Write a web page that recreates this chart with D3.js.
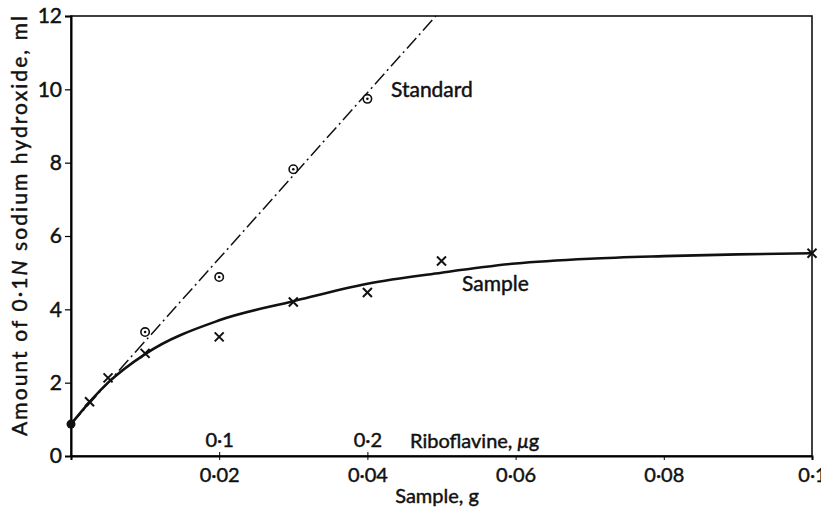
<!DOCTYPE html>
<html>
<head>
<meta charset="utf-8">
<script src="https://cdn.jsdelivr.net/npm/d3@7"></script>
<style>
  body { margin: 0; background: #fff; }
  svg { display: block; }
  text { font-family: Lato, "Open Sans", sans-serif; fill: #111; stroke: #111; stroke-width: 0.45px; }
</style>
</head>
<body>
<div class="container"></div>
<script>
// values
var standardPoints = [[0.01, 3.38], [0.02, 4.88], [0.03, 7.82], [0.04, 9.74]];
var samplePoints = [[0.0025, 1.48], [0.005, 2.13], [0.01, 2.8], [0.02, 3.25], [0.03, 4.2],
                    [0.04, 4.46], [0.05, 5.32], [0.1, 5.53]];
var startPoint = [0, 0.87];
// drawn curve through the sample crosses
var sampleCurve = [[0, 0.87], [0.0025, 1.47], [0.005, 2.0], [0.01, 2.78], [0.02, 3.7],
                   [0.03, 4.22], [0.04, 4.7], [0.05, 5.0], [0.06, 5.25], [0.07, 5.38],
                   [0.08, 5.45], [0.09, 5.5], [0.1, 5.53]];
// straight standard line, ml = intercept + slope * g
var standardIntercept = 0.87;
var standardSlope = 226;

var xTicks = [0.02, 0.04, 0.06, 0.08, 0.1];
var yTicks = [0, 2, 4, 6, 8, 10, 12];
var ribTicks = [0.1, 0.2];

var width = 821,
    height = 507;

var svg = d3.select('.container')
    .append('svg')
    .attr('width', width)
    .attr('height', height);

var mLeft = 71, mRight = 812, mTop = 16, mBottom = 456;

var x = d3.scaleLinear().domain([0, 0.1]).range([mLeft, mRight]);
var y = d3.scaleLinear().domain([0, 12]).range([mBottom, mTop]);
// 0.1 ug riboflavine sits at 0.02 g sample
var rib = d3.scaleLinear().domain([0, 0.5]).range([mLeft, mRight]);

function dotFmt(v) { return String(+v.toFixed(3)).replace('.', '\u00b7'); }

// frame
svg.append('rect')
    .attr('x', mLeft).attr('y', mTop)
    .attr('width', mRight - mLeft).attr('height', mBottom - mTop)
    .attr('fill', 'none').attr('stroke', '#111').attr('stroke-width', 1.6);

// y axis
var yAxis = svg.append('g')
    .attr('transform', 'translate(' + mLeft + ',0)')
    .call(d3.axisLeft(y).tickValues(yTicks).tickSize(6).tickPadding(3).tickFormat(d3.format('d')));
yAxis.select('.domain').attr('stroke-width', 2);
yAxis.selectAll('.tick line').attr('stroke-width', 1.2);
yAxis.selectAll('.tick text').attr('font-size', 21).attr('font-family', 'Lato').attr('fill', '#111');
yAxis.selectAll('.tick').filter(function(d) { return d === 0; }).select('line').remove();

// x axis (sample, g)
var xAxis = svg.append('g')
    .attr('transform', 'translate(0,' + mBottom + ')')
    .call(d3.axisBottom(x).tickValues(xTicks).tickSize(4).tickPadding(8).tickFormat(dotFmt));
xAxis.select('.domain').attr('stroke-width', 2);
xAxis.selectAll('.tick line').attr('stroke-width', 1);
xAxis.selectAll('.tick text').attr('font-size', 20).attr('font-family', 'Lato').attr('fill', '#111');

// riboflavine scale above the axis
var ribAxis = svg.append('g')
    .attr('transform', 'translate(0,' + mBottom + ')')
    .call(d3.axisTop(rib).tickValues(ribTicks).tickSize(4).tickPadding(5).tickFormat(dotFmt));
ribAxis.select('.domain').remove();
ribAxis.selectAll('.tick line').attr('stroke-width', 1);
ribAxis.selectAll('.tick text').attr('font-size', 20).attr('font-family', 'Lato').attr('fill', '#111');

var ribLabel = svg.append('text')
    .attr('x', 410).attr('y', 448)
    .attr('font-size', 20);
ribLabel.append('tspan').text('Riboflavine, ');
ribLabel.append('tspan').attr('font-style', 'italic').text('\u03bc');
ribLabel.append('tspan').text('g');

svg.append('text')
    .attr('x', 437).attr('y', 503)
    .attr('text-anchor', 'middle')
    .attr('font-size', 20)
    .text('Sample, g');

var yLabel = svg.append('text')
    .attr('transform', 'translate(27,226) rotate(-90)')
    .attr('text-anchor', 'middle')
    .attr('font-size', 21)
    .attr('textLength', 420)
    .attr('lengthAdjust', 'spacing');
yLabel.append('tspan').text('Amount of 0\u00b71');
yLabel.append('tspan').attr('font-style', 'italic').text('N');
yLabel.append('tspan').text(' sodium hydroxide, ml');

// standard line, clipped at the top of the frame
var xEnd = (12 - standardIntercept) / standardSlope;
svg.append('line')
    .attr('x1', x(0)).attr('y1', y(standardIntercept))
    .attr('x2', x(xEnd)).attr('y2', y(standardIntercept + standardSlope * xEnd))
    .attr('stroke', '#111').attr('stroke-width', 1.5)
    .attr('stroke-dasharray', '14,4,2,4');

// sample curve
var line = d3.line()
    .x(function(d) { return x(d[0]); })
    .y(function(d) { return y(d[1]); })
    .curve(d3.curveMonotoneX);
svg.append('path')
    .datum(sampleCurve)
    .attr('d', line)
    .attr('fill', 'none').attr('stroke', '#111').attr('stroke-width', 2.6);

// standard points: circles with a centre dot
var std = svg.selectAll('g.std')
    .data(standardPoints)
    .enter().append('g')
    .attr('class', 'std')
    .attr('transform', function(d) { return 'translate(' + x(d[0]) + ',' + y(d[1]) + ')'; });
std.append('circle').attr('r', 4.2).attr('fill', '#fff').attr('stroke', '#111').attr('stroke-width', 1.6);
std.append('circle').attr('r', 1.3).attr('fill', '#111');

// sample points: crosses
var s = 4.5;
svg.selectAll('path.cross')
    .data(samplePoints)
    .enter().append('path')
    .attr('class', 'cross')
    .attr('d', function(d) {
        var cx = x(d[0]), cy = y(d[1]);
        return 'M' + (cx - s) + ',' + (cy - s) + 'L' + (cx + s) + ',' + (cy + s) +
               'M' + (cx - s) + ',' + (cy + s) + 'L' + (cx + s) + ',' + (cy - s);
    })
    .attr('stroke', '#111').attr('stroke-width', 2);

svg.append('circle')
    .attr('cx', x(startPoint[0])).attr('cy', y(startPoint[1]))
    .attr('r', 4.5).attr('fill', '#111');

// series labels
svg.append('text').attr('x', 391).attr('y', 97).attr('font-size', 21).text('Standard');
svg.append('text').attr('x', 462).attr('y', 291).attr('font-size', 21).text('Sample');
</script>
</body>
</html>
